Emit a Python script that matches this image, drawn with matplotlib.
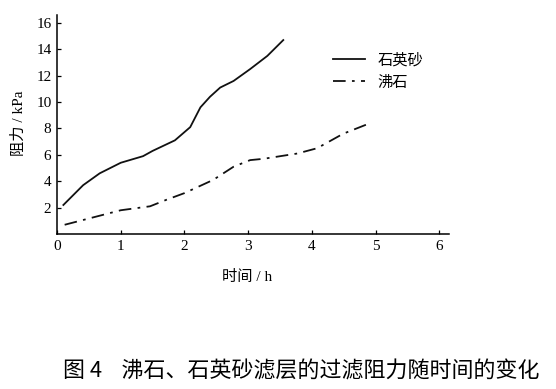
import matplotlib

matplotlib.use("Agg")
import matplotlib.pyplot as plt

# 石英砂 (quartz sand), solid line
QUARTZ_T = [0.10, 0.41, 0.67, 1.00, 1.35, 1.50, 1.85, 2.09, 2.25, 2.40, 2.56, 2.77, 3.03, 3.30, 3.55]
QUARTZ_P = [2.2, 3.7, 4.6, 5.4, 5.9, 6.3, 7.1, 8.1, 9.6, 10.4, 11.1, 11.6, 12.5, 13.5, 14.7]

# 沸石 (zeolite), dash-dot line
ZEOLITE_T = [0.12, 1.00, 1.46, 1.72, 2.00, 2.45, 2.77, 3.03, 3.24, 3.77, 4.08, 4.49, 4.91]
ZEOLITE_P = [0.7, 1.8, 2.1, 2.6, 3.1, 4.1, 5.1, 5.6, 5.7, 6.1, 6.5, 7.6, 8.4]

X_TICKS = [0, 1, 2, 3, 4, 5, 6]
Y_TICKS = [2, 4, 6, 8, 10, 12, 14, 16]

MIXED = ["Liberation Serif", "Noto Sans CJK SC"]
CJK = ["Noto Sans CJK SC", "DejaVu Sans"]

W, H = 556, 389
fig = plt.figure(figsize=(W / 100, H / 100), dpi=100)
left, right, top, bottom = 57, 449, 15, 234
ax = fig.add_axes([left / W, 1 - bottom / H, (right - left) / W, (bottom - top) / H])

ax.plot(QUARTZ_T, QUARTZ_P, color="#111111", linewidth=1.3, label="石英砂")
ax.plot(ZEOLITE_T, ZEOLITE_P, color="#111111", linewidth=1.3,
        linestyle=(0, (7, 3.5, 1.5, 3.5)), label="沸石")

ax.set_xlim(0, 6.15)
ax.set_ylim(0, 16.6)
ax.set_xticks(X_TICKS)
ax.set_yticks(Y_TICKS)
for lab in ax.get_xticklabels() + ax.get_yticklabels():
    lab.set_family("Liberation Serif")
    lab.set_fontsize(11)
ax.tick_params(direction="in", length=3, width=0.9, pad=4)
for side in ("top", "right"):
    ax.spines[side].set_visible(False)
for side in ("left", "bottom"):
    ax.spines[side].set_linewidth(1.1)

ax.set_xlabel("时间 / h", family=MIXED, fontsize=11)
ax.set_ylabel("阻力 / kPa", family=MIXED, fontsize=11)
ax.xaxis.set_label_coords(0.485, -0.164)
ax.yaxis.set_label_coords(-0.08, 0.507)

ax.legend(loc="upper left", bbox_to_anchor=(0.704, 0.835), frameon=False,
          borderaxespad=0, borderpad=0, handlelength=2.1, handletextpad=0.8,
          labelspacing=0.35, prop={"family": CJK, "size": 11})

fig.text(63 / W, 1 - 372 / H, "图 4    沸石、石英砂滤层的过滤阻力随时间的变化",
         family=CJK, fontsize=15.8, ha="left", va="center")

fig.savefig("out.png", dpi=100)
